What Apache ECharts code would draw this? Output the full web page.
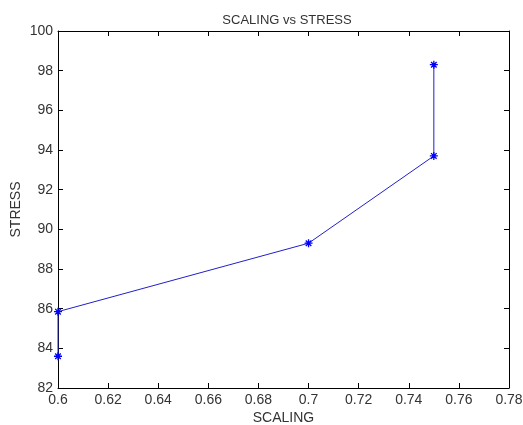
<!DOCTYPE html>
<html><head><meta charset="utf-8">
<script src="https://cdn.jsdelivr.net/npm/echarts@6/dist/echarts.min.js"></script>
<style>html,body{margin:0;padding:0;background:#fff}#c{width:523px;height:425px}</style>
</head><body><div id="c"></div>
<script>
const scaling = [0.6, 0.6, 0.7, 0.75, 0.75];
const stress = [83.6, 85.85, 89.3, 93.7, 98.3];
const title = 'SCALING vs STRESS';
const xName = 'SCALING';
const yName = 'STRESS';

const chart = echarts.init(document.getElementById('c'));
const star = 'path://M0,-10L0,10M-10,0L10,0M-7,-7L7,7M-7,7L7,-7';
const axisCommon = {
  axisLine: {show: true, lineStyle: {color: '#000', width: 1}},
  axisTick: {show: true, inside: true, length: 5, lineStyle: {color: '#000'}},
  splitLine: {show: false}
};
const font = 'Liberation Sans, Arial, sans-serif';
const lbl = {color: '#333', fontFamily: font, fontSize: 14};
chart.setOption({
  animation: false,
  title: {text: title, left: 282, textAlign: 'center', top: 9, textStyle: {fontFamily: font, fontSize: 13, fontWeight: 'normal', color: '#333'}},
  grid: {left: 58, right: 14, top: 31, bottom: 37, containLabel: false, outerBoundsMode: 'none'},
  xAxis: [
    Object.assign({type: 'value', min: 0.6, max: 0.78, interval: 0.02, position: 'bottom',
      name: xName, nameLocation: 'middle', nameGap: 23, nameMoveOverlap: false, nameTextStyle: lbl,
      axisLabel: Object.assign({margin: 5, formatter: v => String(+v.toFixed(2))}, lbl)}, axisCommon),
    Object.assign({type: 'value', min: 0.6, max: 0.78, interval: 0.02, position: 'top', axisLabel: {show: false}}, axisCommon)
  ],
  yAxis: [
    Object.assign({type: 'value', min: 82, max: 100, interval: 2, position: 'left',
      name: yName, nameLocation: 'middle', nameGap: 35, nameMoveOverlap: false, nameTextStyle: lbl,
      axisLabel: Object.assign({margin: 5}, lbl)}, axisCommon),
    Object.assign({type: 'value', min: 82, max: 100, interval: 2, position: 'right', axisLabel: {show: false}}, axisCommon)
  ],
  series: [{
    type: 'line',
    data: scaling.map((x, i) => [x, stress[i]]),
    symbol: star, symbolSize: 8, showAllSymbol: true,
    lineStyle: {color: '#2020c8', width: 1},
    itemStyle: {color: 'rgba(0,0,0,0)', borderColor: '#0000ff', borderWidth: 1.3}
  }]
});
</script></body></html>
